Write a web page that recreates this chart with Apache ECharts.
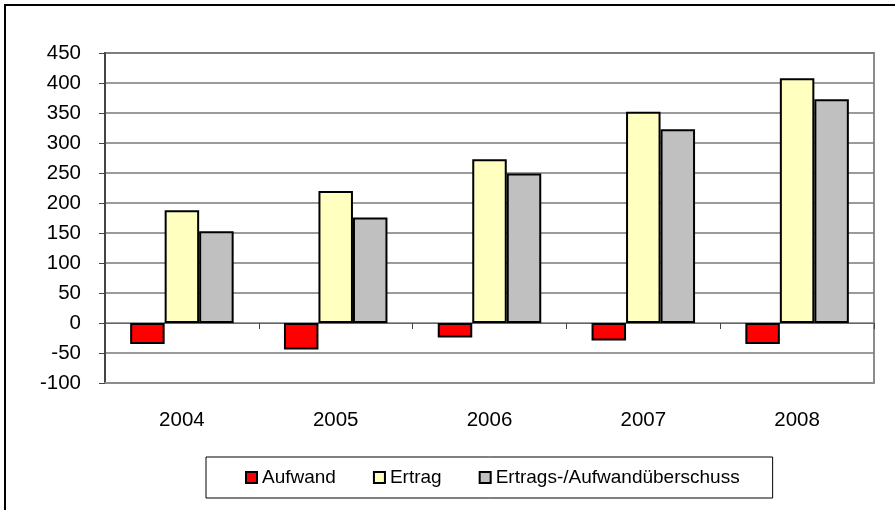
<!DOCTYPE html>
<html>
<head>
<meta charset="utf-8">
<script src="https://cdn.jsdelivr.net/npm/echarts@6/dist/echarts.min.js"></script>
<style>
  html, body { margin: 0; padding: 0; background: #fff; }
  #chart { width: 895px; height: 510px; }
</style>
</head>
<body>
<div id="chart"></div>
<script>
const categories = ['2004', '2005', '2006', '2007', '2008'];
const aufwand = [-35, -44, -24, -29, -35];
const ertrag = [188, 220, 273, 352, 408];
const ueberschuss = [153, 176, 249, 323, 373];
const seriesNames = ['Aufwand', 'Ertrag', 'Ertrags-/Aufwandüberschuss'];
const yMin = -100, yMax = 450, yStep = 50;

const FONT = '"Liberation Sans", Arial, sans-serif';
const chart = echarts.init(document.getElementById('chart'), null, { renderer: 'canvas' });

const barStyle = (color) => ({ color: color, borderColor: '#000', borderWidth: 2 });

chart.setOption({
  animation: false,
  backgroundColor: '#fff',
  textStyle: { fontFamily: FONT },
  graphic: [{
    type: 'rect',
    shape: { x: 5, y: 5, width: 1200, height: 1200 },
    style: { fill: 'none', stroke: '#000', lineWidth: 2 },
    silent: true
  }],
  grid: {
    left: 105, right: 21, top: 53, bottom: 127,
    show: true, borderColor: '#8c8c8c', borderWidth: 2, backgroundColor: 'transparent'
  },
  legend: {
    left: 206, top: 457,
    data: seriesNames,
    icon: 'rect', itemWidth: 11, itemHeight: 11, itemGap: 37,
    itemStyle: { borderColor: '#000', borderWidth: 2 },
    borderColor: '#000', borderWidth: 1,
    padding: [11, 33, 11, 39],
    textStyle: { fontFamily: FONT, fontSize: 19, color: '#000' }
  },
  xAxis: [{
    type: 'category', data: categories, position: 'bottom',
    axisLine: { onZero: false, lineStyle: { color: '#8c8c8c', width: 2 } },
    axisTick: { show: false },
    axisLabel: { fontFamily: FONT, fontSize: 20.5, color: '#000', margin: 27 }
  }, {
    type: 'category', data: categories, position: 'top',
    axisLine: { onZero: true, lineStyle: { color: '#666', width: 1 } },
    axisTick: { show: true, inside: true, length: 6, lineStyle: { color: '#444' } },
    axisLabel: { show: false }
  }],
  yAxis: {
    type: 'value', min: yMin, max: yMax, interval: yStep,
    axisLine: { show: true, lineStyle: { color: '#444', width: 2 } },
    axisTick: { show: true, length: 6, lineStyle: { color: '#444' } },
    axisLabel: { fontFamily: FONT, fontSize: 20.5, color: '#000', margin: 24 },
    splitLine: { show: true, lineStyle: { color: '#7a7a7a', width: 1.5 } }
  },
  series: [
    { name: seriesNames[0], type: 'bar', data: aufwand, barWidth: 34.5, barGap: '0%', itemStyle: barStyle('#ff0000') },
    { name: seriesNames[1], type: 'bar', data: ertrag, barWidth: 34.5, barGap: '0%', itemStyle: barStyle('#ffffc0') },
    { name: seriesNames[2], type: 'bar', data: ueberschuss, barWidth: 34.5, barGap: '0%', itemStyle: barStyle('#c0c0c0') }
  ]
});
</script>
</body>
</html>
